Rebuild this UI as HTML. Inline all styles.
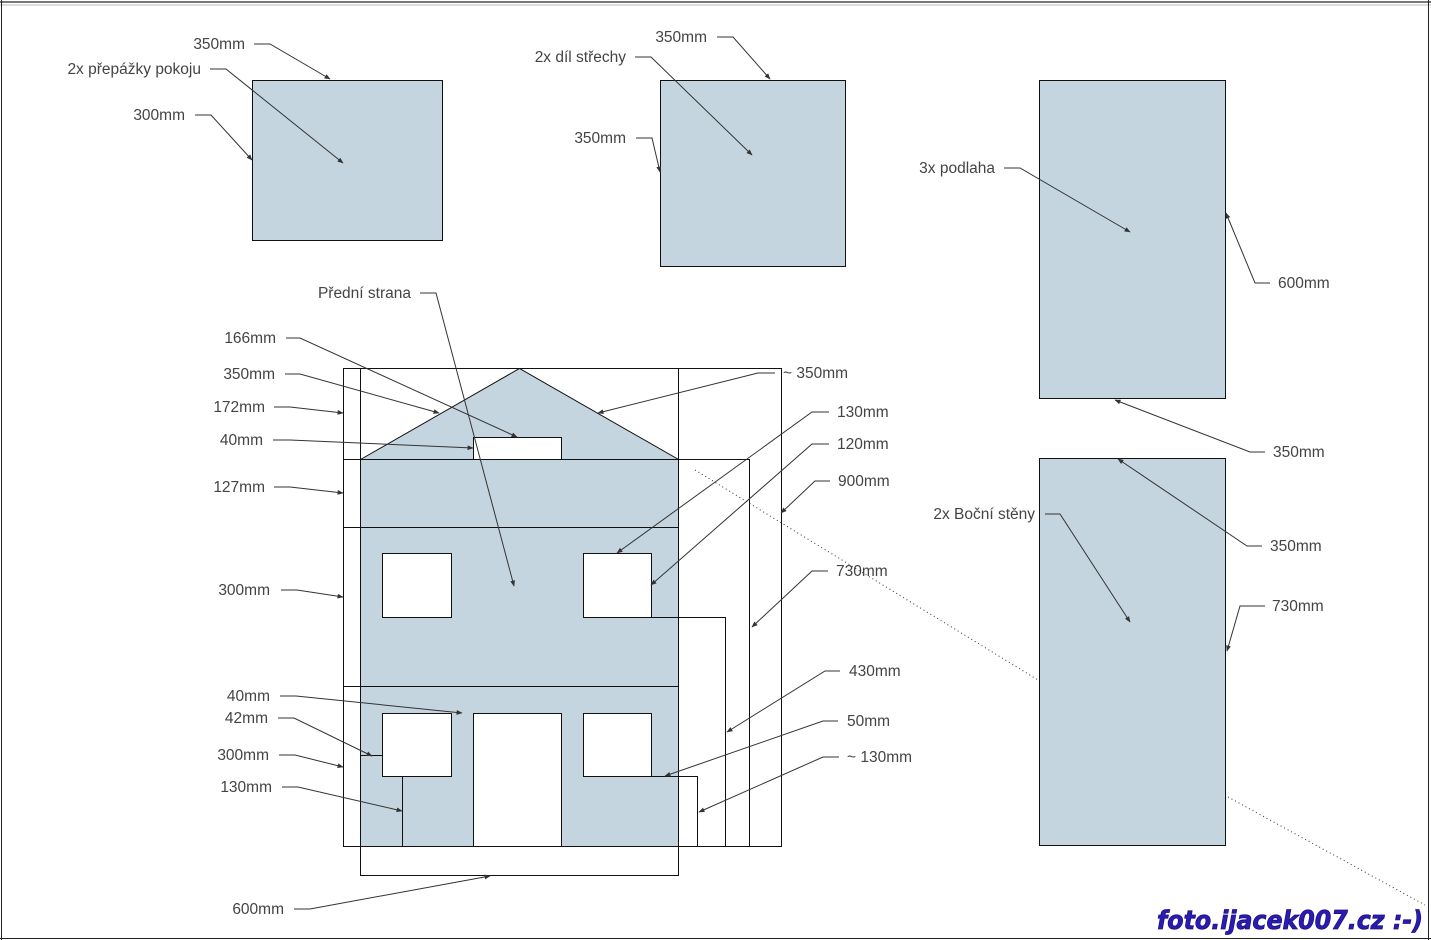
<!DOCTYPE html>
<html><head><meta charset="utf-8"><style>
html,body{margin:0;padding:0;background:#fff;}
svg{display:block;}
text{font-family:"Liberation Sans",sans-serif;font-size:15.5px;fill:#444;}
</style></head><body>
<svg width="1431" height="940" viewBox="0 0 1431 940" xmlns="http://www.w3.org/2000/svg">
<defs>
<marker id="a" viewBox="0 0 10 10" refX="9" refY="5" markerWidth="8" markerHeight="6" orient="auto" markerUnits="userSpaceOnUse">
<path d="M0,1 L10,5 L0,9 z" fill="#333"/>
</marker>
</defs>
<line x1="0" y1="2" x2="1431" y2="2" stroke="#777" stroke-width="2"/>
<line x1="0" y1="5" x2="1431" y2="5" stroke="#bbb" stroke-width="1"/>
<line x1="1.5" y1="0" x2="1.5" y2="940" stroke="#222" stroke-width="1"/>
<line x1="1428.5" y1="0" x2="1428.5" y2="940" stroke="#222" stroke-width="1"/>
<line x1="0" y1="938.5" x2="1431" y2="938.5" stroke="#222" stroke-width="1"/>

<g stroke="#111" stroke-width="1" fill="#c5d5df">
<rect x="252.5" y="80.5" width="190" height="160"/>
<rect x="660.5" y="80.5" width="185" height="186"/>
<rect x="1039.5" y="80.5" width="186" height="318"/>
<rect x="1039.5" y="458.5" width="186" height="387"/>
</g>

<g stroke="#111" stroke-width="1">
<polygon points="360.5,459.5 519.5,368.5 678.5,459.5" fill="#c5d5df"/>
<rect x="360.5" y="459.5" width="318" height="387" fill="#c5d5df"/>
<g fill="#fff">
<rect x="473.5" y="437.5" width="88" height="22"/>
<rect x="382.5" y="553.5" width="69" height="64"/>
<rect x="583.5" y="553.5" width="68" height="64"/>
<rect x="382.5" y="713.5" width="69" height="63"/>
<rect x="583.5" y="713.5" width="68" height="63"/>
<rect x="473.5" y="713.5" width="88" height="133"/>
</g>
<g fill="none">
<rect x="343.5" y="368.5" width="438" height="478"/>
<line x1="360.5" y1="368.5" x2="360.5" y2="846.5"/>
<line x1="678.5" y1="368.5" x2="678.5" y2="846.5"/>
<line x1="343.5" y1="459.5" x2="360.5" y2="459.5"/>
<line x1="343.5" y1="527.5" x2="678.5" y2="527.5"/>
<line x1="343.5" y1="686.5" x2="678.5" y2="686.5"/>
<polyline points="678.5,459.5 749.5,459.5 749.5,846.5"/>
<polyline points="651.5,617.5 725.5,617.5 725.5,846.5"/>
<polyline points="651.5,776.5 697.5,776.5 697.5,846.5"/>
<polyline points="402.5,776.5 402.5,846.5"/>
<line x1="360.5" y1="755.5" x2="382.5" y2="755.5"/>
<rect x="360.5" y="846.5" width="318" height="29"/>
</g>
</g>

<g stroke="#333" stroke-width="1" stroke-dasharray="1,3" fill="none">
<line x1="695" y1="470" x2="1038" y2="680"/>
<line x1="1228" y1="797" x2="1425" y2="905"/>
</g>

<g stroke="#333" stroke-width="1" fill="none" marker-end="url(#a)">
<polyline points="254,44 270,44 330,79"/>
<polyline points="210,69 226,69 343,163"/>
<polyline points="195,115 211,115 252,160"/>
<polyline points="717,37 733,37 770,79"/>
<polyline points="635,57 651,57 752,155"/>
<polyline points="636,138 652,138 660,172"/>
<polyline points="1004,168 1020,168 1130,232"/>
<polyline points="1270,283 1255,283 1226,213"/>
<polyline points="1265,452 1250,452 1115,400"/>
<polyline points="1045,514 1060,514 1130,622"/>
<polyline points="1262,546 1247,546 1118,459"/>
<polyline points="1265,606 1240,606 1227,651"/>
<polyline points="420,293 436,293 514,586"/>
<polyline points="286,338 300,338 517,437"/>
<polyline points="285,374 300,374 439,413"/>
<polyline points="775,373 758,373 598,413"/>
<polyline points="274,407 290,407 343,413"/>
<polyline points="273,440 290,440 473,448"/>
<polyline points="274,487 290,487 343,493"/>
<polyline points="281,590 297,590 343,597"/>
<polyline points="829,412 812,412 617,553"/>
<polyline points="829,444 812,444 651,585"/>
<polyline points="830,481 815,481 781,513"/>
<polyline points="828,571 812,571 752,627"/>
<polyline points="840,671 825,671 727,732"/>
<polyline points="838,721 823,721 665,776"/>
<polyline points="839,757 823,757 699,812"/>
<polyline points="280,696 296,696 462,713"/>
<polyline points="278,718 294,718 372,756"/>
<polyline points="279,755 295,755 343,767"/>
<polyline points="282,787 298,787 402,811"/>
<polyline points="294,909 310,909 490,876"/>
</g>

<g text-anchor="end">
<text x="245" y="49">350mm</text>
<text x="201" y="74">2x přepážky pokoju</text>
<text x="185" y="120">300mm</text>
<text x="707" y="42">350mm</text>
<text x="626" y="62">2x díl střechy</text>
<text x="626" y="143">350mm</text>
<text x="995" y="173">3x podlaha</text>
<text x="1035" y="519">2x Boční stěny</text>
<text x="411" y="298">Přední strana</text>
<text x="276" y="343">166mm</text>
<text x="275" y="379">350mm</text>
<text x="265" y="412">172mm</text>
<text x="263" y="445">40mm</text>
<text x="265" y="492">127mm</text>
<text x="270" y="595">300mm</text>
<text x="270" y="701">40mm</text>
<text x="268" y="723">42mm</text>
<text x="269" y="760">300mm</text>
<text x="272" y="792">130mm</text>
<text x="284" y="914">600mm</text>
</g>
<g text-anchor="start">
<text x="1278" y="288">600mm</text>
<text x="1273" y="457">350mm</text>
<text x="1270" y="551">350mm</text>
<text x="1272" y="611">730mm</text>
<text x="783" y="378">~ 350mm</text>
<text x="837" y="417">130mm</text>
<text x="837" y="449">120mm</text>
<text x="838" y="486">900mm</text>
<text x="836" y="576">730mm</text>
<text x="849" y="676">430mm</text>
<text x="847" y="726">50mm</text>
<text x="847" y="762">~ 130mm</text>
</g>

<text x="1157" y="929" textLength="266" lengthAdjust="spacingAndGlyphs" style="font-family:'DejaVu Sans',sans-serif;font-size:26px;font-weight:bold;font-style:italic;fill:#2a1cb0;stroke:#1a0f80;stroke-width:0.8">foto.ijacek007.cz :-)</text>
</svg>
</body></html>
